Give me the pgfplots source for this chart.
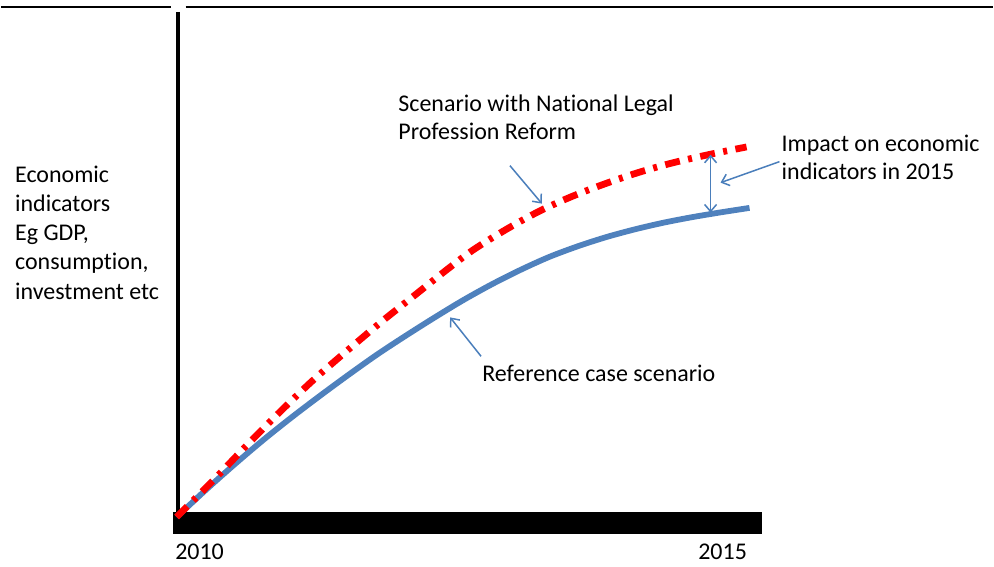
\documentclass[border=0pt]{standalone}
\usepackage{pgfplots}
\pgfplotsset{compat=1.18}
\usepackage{fontspec}
\setmainfont{Carlito}[Ligatures=NoCommon]
\usetikzlibrary{arrows.meta}

\definecolor{refblue}{HTML}{4F81BD}
\definecolor{arrowblue}{HTML}{4A7EBB}

\tikzset{
    lbl/.style={font=\fontsize{24bp}{28bp}\selectfont, inner sep=0pt},
    barb/.style={arrowblue, line width=1.5bp},
}

\begin{document}
\begin{tikzpicture}
\begin{axis}[
    x=114.8bp, y=3.7bp,
    xmin=2008.467, xmax=2017.125,
    ymin=-13.51, ymax=140,
    hide axis,
    clip=false,
]
% page frame (keeps the picture at the reference size)
\path (axis cs:2008.467,140) rectangle (axis cs:2017.125,-13.51);

% top rule, with the small gap above the y axis
\draw[line width=2bp] (axis cs:2008.467,138.1) -- (axis cs:2009.948,138.1);
\draw[line width=2bp] (axis cs:2010.078,138.1) -- (axis cs:2017.125,138.1);

% axes drawn as in the original sketch
\draw[line width=4bp] (axis cs:2010.013,136.76) -- (axis cs:2010.013,0.8);
\fill[black] (axis cs:2009.965,1.35) rectangle (axis cs:2015.105,-4.59);

% reference case scenario
\addplot[refblue, line width=5.8bp, smooth] coordinates {
    (2010.00, 0.0)
    (2010.25, 7.2)
    (2010.50, 14.1)
    (2010.75, 20.7)
    (2011.00, 26.9)
    (2011.25, 32.8)
    (2011.50, 38.5)
    (2011.75, 44.0)
    (2012.00, 49.1)
    (2012.25, 54.0)
    (2012.50, 58.7)
    (2012.75, 63.0)
    (2013.00, 66.9)
    (2013.25, 70.4)
    (2013.50, 73.3)
    (2013.75, 75.8)
    (2014.00, 77.9)
    (2014.25, 79.7)
    (2014.50, 81.2)
    (2014.75, 82.5)
    (2015.00, 83.7)
};

% scenario with reform
\addplot[red, line width=6.8bp, smooth,
    dash pattern=on 15bp off 8.5bp on 4bp off 8.5bp] coordinates {
    (2010.000, 0.00)
    (2010.322, 10.0)
    (2010.618, 19.6)
    (2010.906, 28.6)
    (2011.193, 37.1)
    (2011.490, 45.1)
    (2011.777, 52.6)
    (2012.064, 59.7)
    (2012.343, 66.6)
    (2012.587, 72.3)
    (2012.883, 78.0)
    (2013.171, 82.9)
    (2013.458, 86.9)
    (2013.754, 90.4)
    (2014.042, 93.4)
    (2014.329, 95.9)
    (2014.669, 98.3)
    (2014.974, 100.2)
};

% annotation arrows
\draw[barb, -{Straight Barb[length=7bp,width=12bp]}]
    (axis cs:2012.909,95.14) -- (axis cs:2013.188,84.86);
\draw[barb, -{Straight Barb[length=7bp,width=12bp]}]
    (axis cs:2012.657,43.51) -- (axis cs:2012.387,54.05);
\draw[barb, -{Straight Barb[length=7bp,width=12bp]}]
    (axis cs:2015.261,96.22) -- (axis cs:2014.747,90.54);
\draw[barb, {Straight Barb[length=7bp,width=12bp]}-{Straight Barb[length=7bp,width=12bp]}]
    (axis cs:2014.660,98.11) -- (axis cs:2014.660,82.43);

% texts
\node[lbl, anchor=base west] at (axis cs:2008.589,90.54) {Economic};
\node[lbl, anchor=base west] at (axis cs:2008.589,82.70) {indicators};
\node[lbl, anchor=base west] at (axis cs:2008.589,74.86) {Eg GDP,};
\node[lbl, anchor=base west] at (axis cs:2008.589,67.03) {consumption,};
\node[lbl, anchor=base west] at (axis cs:2008.589,58.92) {investment etc};

\node[lbl, anchor=base west] at (axis cs:2011.934,109.73) {Scenario with National Legal};
\node[lbl, anchor=base west] at (axis cs:2011.934,102.16) {Profession Reform};

\node[lbl, anchor=base west] at (axis cs:2015.279,98.92) {Impact on economic};
\node[lbl, anchor=base west] at (axis cs:2015.279,91.35) {indicators in 2015};

\node[lbl, anchor=base west] at (axis cs:2012.666,36.76) {Reference case scenario};

\node[lbl, anchor=base] at (axis cs:2010.200,-11.62) {2010};
\node[lbl, anchor=base] at (axis cs:2014.765,-11.62) {2015};
\end{axis}
\end{tikzpicture}
\end{document}
